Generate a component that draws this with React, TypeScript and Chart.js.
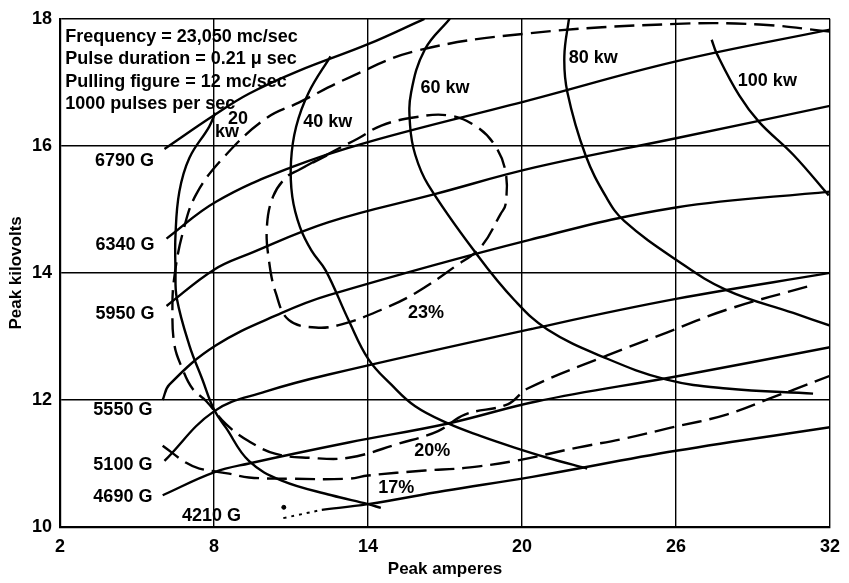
import React, { useEffect, useRef } from 'react';
import { Chart, registerables } from 'chart.js';

Chart.register(...registerables);

type P = [number, number];

// ---------- axis ticks ----------
const xTicks = [2, 8, 14, 20, 26, 32];
const yTicks = [10, 12, 14, 16, 18];

// ---------- magnetic field lines (solid) ----------
const fieldNames = ['6790 G', '6340 G', '5950 G', '5550 G', '5100 G', '4690 G', '4210 G'];
const field6790: P[] = [[6.07, 15.95], [8, 16.48], [9.36, 16.82], [11.3, 17.18], [14, 17.6], [16.2, 18.0]];
const field6340: P[] = [[6.15, 14.54], [8.08, 15.12], [11.0, 15.66], [14, 16.06], [20.3, 16.72], [26, 17.33], [32, 17.83]];
const field5950: P[] = [[6.15, 13.48], [8, 14.05], [9.36, 14.3], [12.47, 14.8], [16.6, 15.24], [20.5, 15.66], [26, 16.12], [32, 16.63]];
const field5550: P[] = [[6.0, 12.0], [6.26, 12.24], [8.08, 12.86], [10.64, 13.37], [12.47, 13.65], [20.3, 14.52], [26, 15.03], [32, 15.28]];
const field5100: P[] = [[6.07, 11.04], [8, 11.82], [10.0, 12.13], [12.47, 12.4], [20.4, 13.12], [26, 13.59], [32, 14.0]];
const field4690: P[] = [[6.0, 10.5], [8, 10.86], [9.36, 11.0], [13.24, 11.33], [17.12, 11.63], [20.6, 11.98], [26, 12.37], [32, 12.83]];
const field4210Dotted: P[] = [[10.7, 10.14], [12.2, 10.27]];
const field4210: P[] = [[12.2, 10.27], [14, 10.36], [17, 10.57], [20.4, 10.79], [26, 11.2], [32, 11.57]];
const field4210Dot: P[] = [[10.72, 10.31]];

// ---------- constant power curves (solid) ----------
const powerNames = ['20', 'kw', '40 kw', '60 kw', '80 kw', '100 kw'];
const kw20: P[] = [[8.05, 16.52], [7.81, 16.3], [7.04, 15.81], [6.65, 15.28], [6.5, 14.6], [6.5, 14.04], [6.55, 13.6], [7.04, 12.86], [7.54, 12.33], [8.0, 11.85], [8.47, 11.56], [9.36, 11.04], [10.64, 10.73], [12.58, 10.5], [14.0, 10.36], [14.5, 10.3]];
const kw40: P[] = [[12.54, 17.41], [11.69, 16.84], [11.2, 16.3], [11.0, 15.75], [11.05, 15.2], [11.35, 14.72], [11.8, 14.35], [12.35, 14.04], [13.24, 13.26], [14.02, 12.64], [14.91, 12.24], [15.84, 11.9], [17.12, 11.63], [18.4, 11.43], [19.71, 11.25], [20.99, 11.09], [22.54, 10.92]];
const kw60: P[] = [[17.19, 18.0], [16.22, 17.52], [15.68, 16.84], [15.64, 16.32], [15.84, 15.86], [16.34, 15.39], [18.28, 14.27], [19.71, 13.57], [20.99, 13.11], [23.2, 12.67], [25.64, 12.32], [27.97, 12.18], [31.34, 12.1]];
const kw80: P[] = [[21.84, 18.03], [21.65, 17.41], [21.77, 16.84], [22.47, 15.86], [23.3, 15.18], [23.98, 14.82], [26.03, 14.2], [27.97, 13.73], [30.57, 13.37], [32, 13.17]];
const kw100: P[] = [[27.39, 17.67], [27.58, 17.46], [28.47, 16.79], [29.25, 16.37], [30.57, 15.86], [31.95, 15.22]];

// ---------- efficiency contours (dashed) ----------
const effNames = ['23%', '20%', '17%'];
const eff23: P[] = [[11.3, 15.62], [12.58, 15.9], [13.63, 16.12], [14.52, 16.32], [15.84, 16.45], [17.12, 16.48], [18.16, 16.32], [18.94, 16.01], [19.36, 15.59], [19.36, 15.08], [19.17, 14.93], [18.4, 14.41], [17.39, 14.1], [15.84, 13.68], [14.52, 13.42], [12.97, 13.19], [11.96, 13.14], [10.91, 13.26], [10.41, 13.68], [10.14, 14.2], [10.06, 14.72], [10.3, 15.2], [10.8, 15.5], [11.3, 15.62], [12.4, 15.85]];
const eff20: P[] = [[32, 17.8], [29.25, 17.91], [26.03, 17.92], [20.22, 17.77], [15.84, 17.49], [13.24, 17.07], [11.3, 16.68], [10.02, 16.43], [8.47, 15.86], [7.31, 15.24], [6.77, 14.61], [6.46, 13.95], [6.38, 13.48], [6.46, 12.86], [6.77, 12.49], [7.16, 12.18], [7.7, 11.98], [8.47, 11.62], [9.36, 11.35], [10.41, 11.15], [11.69, 11.09], [13.24, 11.09], [15.18, 11.31], [16.73, 11.51], [17.77, 11.77], [19.44, 11.93], [20.22, 12.18], [23.32, 12.7], [25.64, 13.06], [27.97, 13.42], [31.34, 13.81]];
const eff17: P[] = [[6.0, 11.28], [6.92, 11.01], [7.43, 10.92], [8.59, 10.84], [9.36, 10.78], [10.91, 10.76], [13.24, 10.76], [14.0, 10.81], [16.22, 10.89], [17.77, 10.93], [19.71, 11.04], [22.16, 11.25], [24.09, 11.4], [25.76, 11.56], [27.97, 11.77], [30.02, 12.08], [30.57, 12.16], [32, 12.38]];

// ---------- header text ----------
const infoLines = ['Frequency = 23,050 mc/sec', 'Pulse duration = 0.21 \u03bc sec', 'Pulling figure = 12 mc/sec', '1000 pulses per sec'];

// label anchors (data coordinates)
const infoAnchor = { x: 2.2, y: [17.72, 17.36, 17.0, 16.66] };
const fieldLabelPos: P[] = [[5.66, 15.76], [5.68, 14.44], [5.68, 13.36], [5.6, 11.84], [5.6, 10.98], [5.6, 10.47], [7.9, 10.17]];
const powerLabelPos: P[] = [[8.94, 16.43], [8.51, 16.21], [12.43, 16.37], [17.0, 16.91], [22.78, 17.39], [29.56, 17.02]];
const effLabelPos: P[] = [[16.26, 13.37], [16.5, 11.2], [15.1, 10.61]];

const FONT = "'Liberation Sans', Arial, sans-serif";

function line(points: P[], dashed: boolean, extra: any = {}) {
  return {
    data: points.map(([x, y]) => ({ x, y })),
    showLine: true,
    borderColor: '#000',
    backgroundColor: '#000',
    borderWidth: 2.4,
    pointRadius: 0,
    pointHoverRadius: 0,
    tension: 0.4,
    borderDash: dashed ? [20, 8] : [],
    fill: false,
    ...extra,
  };
}

const labelPlugin = {
  id: 'textLabels',
  afterDatasetsDraw(chart: any) {
    const { ctx, scales } = chart;
    const xs = scales.x;
    const ys = scales.y;
    const px = (v: number) => xs.getPixelForValue(v);
    const py = (v: number) => ys.getPixelForValue(v);
    ctx.save();
    ctx.fillStyle = '#000';
    ctx.textBaseline = 'middle';
    ctx.font = `bold 18px ${FONT}`;
    ctx.textAlign = 'left';
    infoLines.forEach((t, i) => ctx.fillText(t, px(infoAnchor.x), py(infoAnchor.y[i])));
    fieldNames.forEach((t, i) => {
      const [x, y] = fieldLabelPos[i];
      ctx.textAlign = i === fieldNames.length - 1 ? 'center' : 'right';
      ctx.fillText(t, px(x), py(y));
    });
    ctx.textAlign = 'center';
    powerNames.forEach((t, i) => {
      const [x, y] = powerLabelPos[i];
      ctx.fillText(t, px(x), py(y));
    });
    effNames.forEach((t, i) => {
      const [x, y] = effLabelPos[i];
      ctx.fillText(t, px(x), py(y));
    });
    ctx.restore();
  },
};

export default function App() {
  const ref = useRef<HTMLCanvasElement | null>(null);
  useEffect(() => {
    if (!ref.current) return;
    const datasets: any[] = [
      line(field6790, false), line(field6340, false), line(field5950, false), line(field5550, false),
      line(field5100, false), line(field4690, false), line(field4210, false),
      line(field4210Dotted, false, { borderDash: [3, 5], borderWidth: 2 }),
      { data: field4210Dot.map(([x, y]) => ({ x, y })), showLine: false, pointRadius: 2, backgroundColor: '#000', borderColor: '#000' },
      line(kw20, false), line(kw40, false), line(kw60, false), line(kw80, false), line(kw100, false),
      line(eff23, true), line(eff20, true), line(eff17, true),
    ];
    const chart = new Chart(ref.current, {
      type: 'scatter',
      data: { datasets },
      options: {
        animation: false,
        responsive: false,
        devicePixelRatio: 1,
        events: [],
        layout: { padding: { left: 0, right: 15, top: 12, bottom: 0 } },
        plugins: { legend: { display: false }, tooltip: { enabled: false }, title: { display: false } },
        scales: {
          x: {
            type: 'linear',
            min: 2,
            max: 32,
            afterBuildTicks: (s: any) => { s.ticks = xTicks.map((v) => ({ value: v })); },
            afterFit: (s: any) => { s.height = 56; },
            grid: { color: '#000', lineWidth: 1.4, drawTicks: false },
            border: { color: '#000', width: 2.2 },
            ticks: { color: '#000', padding: 9, font: { family: FONT, size: 18, weight: 'bold' } },
            title: { display: true, text: 'Peak amperes', color: '#000', padding: { top: 0, bottom: 3 }, font: { family: FONT, size: 17, weight: 'bold' } },
          },
          y: {
            type: 'linear',
            min: 10,
            max: 18,
            afterBuildTicks: (s: any) => { s.ticks = yTicks.map((v) => ({ value: v })); },
            afterFit: (s: any) => { s.width = 60; },
            grid: { color: '#000', lineWidth: 1.4, drawTicks: false },
            border: { color: '#000', width: 2.2 },
            ticks: { color: '#000', padding: 8, font: { family: FONT, size: 18, weight: 'bold' } },
            title: { display: true, text: 'Peak kilovolts', color: '#000', padding: { top: 6, bottom: 0 }, font: { family: FONT, size: 17, weight: 'bold' } },
          },
        },
      } as any,
      plugins: [labelPlugin],
    });
    return () => chart.destroy();
  }, []);
  return (
    <div style={{ position: 'absolute', left: 0, top: 0, width: 849, height: 583, background: '#fff' }}>
      <canvas ref={ref} width={849} height={583} style={{ display: 'block' }} />
    </div>
  );
}
